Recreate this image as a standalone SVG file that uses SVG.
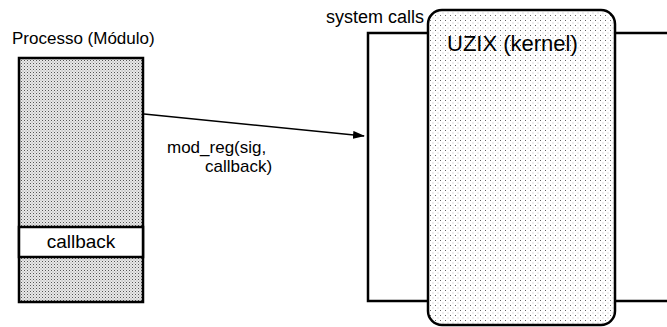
<svg xmlns="http://www.w3.org/2000/svg" width="667" height="327" viewBox="0 0 667 327">
<defs>
<pattern id="dense" width="3" height="3" patternUnits="userSpaceOnUse">
<rect width="3" height="3" fill="#e8e8e8"/>
<rect x="0" y="0" width="1" height="1" fill="#555"/>
<rect x="1.5" y="1.5" width="1" height="1" fill="#999"/>
</pattern>
<pattern id="sparse" width="5" height="5" patternUnits="userSpaceOnUse">
<rect width="5" height="5" fill="#fff"/>
<rect x="0" y="0" width="1" height="1" fill="#666"/>
<rect x="2.5" y="2.5" width="1" height="1" fill="#bbb"/>
</pattern>
<marker id="arr" markerWidth="12" markerHeight="8" refX="11" refY="4" orient="auto" markerUnits="userSpaceOnUse">
<path d="M0,0 L12,4 L0,8 Z" fill="#000"/>
</marker>
<style>
text{font-family:"Liberation Sans",Arial,sans-serif;fill:#000}
.box{stroke:#000;stroke-width:2.5}
</style>
</defs>
<g id="processo">
<text x="12" y="44" font-size="17">Processo (Módulo)</text>
<rect class="box" x="19" y="58" width="124" height="244" fill="url(#dense)"/>
<g id="callback">
<rect class="box" x="19" y="227" width="124" height="30" fill="#fff"/>
<text x="81" y="248" font-size="19" text-anchor="middle">callback</text>
</g>
</g>
<g id="syscalls">
<rect class="box" x="368" y="33" width="320" height="268" fill="#fff"/>
<text x="424" y="23" font-size="18" text-anchor="end">system calls</text>
</g>
<g id="kernel">
<rect class="box" x="428" y="10" width="187" height="315" rx="14" fill="url(#sparse)"/>
<text x="447" y="51" font-size="22">UZIX (kernel)</text>
</g>
<g id="connectors">
<line x1="144" y1="114" x2="364" y2="136" stroke="#000" stroke-width="1.5" marker-end="url(#arr)"/>
<text x="167" y="153" font-size="17">mod_reg(sig,</text>
<text x="205" y="172" font-size="17">callback)</text>
</g>
</svg>
